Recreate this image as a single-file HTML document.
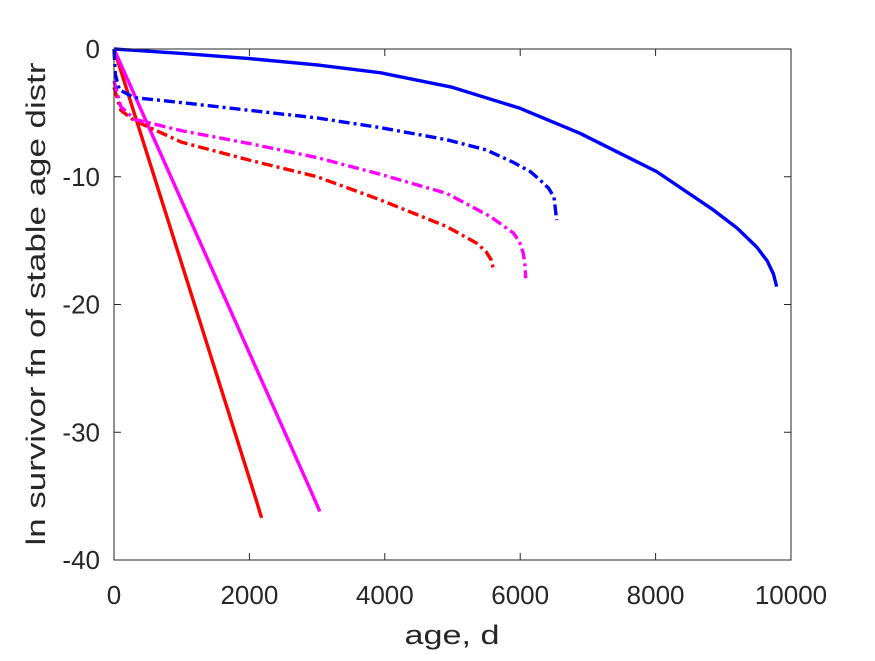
<!DOCTYPE html>
<html><head><meta charset="utf-8"><style>
body{margin:0;background:#fff}
svg text{font-family:"Liberation Sans",Arial,sans-serif;fill:#262626}
</style></head><body>
<svg width="875" height="656" xmlns="http://www.w3.org/2000/svg">
<g id="plot"></g>
<g id="axes"></g>
<text x="452" y="644" text-anchor="middle" font-size="27" textLength="95" lengthAdjust="spacingAndGlyphs">age, d</text>
<text transform="translate(45,304) rotate(-90)" text-anchor="middle" font-size="27" textLength="483" lengthAdjust="spacingAndGlyphs">ln survivor fn of stable age distr</text>
</svg>
<script>
const xTicks=[0,2000,4000,6000,8000,10000];
const yTicks=[0,-10,-20,-30,-40];
const blueSolidX=[0,1000,2000,3000,3929,5000,5997,6883,8016,8853,9200,9493,9650,9740,9788];
const blueSolidY=[0,-0.35,-0.75,-1.25,-1.85,-3.0,-4.64,-6.6,-9.6,-12.6,-14.0,-15.5,-16.6,-17.6,-18.6];
const blueDashX=[0,20,80,300,1000,2000,3000,3929,4914,5500,5908,6150,6292,6420,6499,6539];
const blueDashY=[0,-2,-3.2,-3.8,-4.2,-4.8,-5.4,-6.15,-7.1,-7.9,-8.9,-9.6,-10.25,-10.9,-11.6,-13.4];
const magDashX=[0,100,300,1000,2000,3000,3929,4914,5554,5898,5990,6046,6070,6081];
const magDashY=[-2.5,-4.5,-5.5,-6.4,-7.4,-8.5,-9.8,-11.3,-13.1,-14.4,-15.1,-16,-16.9,-17.95];
const redDashX=[0,100,300,1000,2000,3000,3929,4914,5357,5500,5570,5603];
const redDashY=[-3,-4.8,-5.6,-7.3,-8.7,-10,-11.8,-13.9,-15.2,-15.9,-16.5,-17.2];
const redSolidX=[0,2100,2180];
const redSolidY=[0,-35.3,-36.7];
const magSolidX=[0,2900,3040];
const magSolidY=[0,-34.5,-36.2];
const L=114,R=791,T=49,B=560;
const sx=v=>L+(v-0)/10000*(R-L);
const sy=v=>T+(0-v)/40*(B-T);
const NS="http://www.w3.org/2000/svg";
const plot=document.getElementById('plot'),axes=document.getElementById('axes');
function line(xs,ys,color,dash,name){
  const p=document.createElementNS(NS,'polyline');
  p.setAttribute('points',xs.map((x,i)=>sx(x)+','+sy(ys[i])).join(' '));
  p.setAttribute('fill','none');p.setAttribute('stroke',color);p.setAttribute('stroke-width','3.4');
  p.setAttribute('stroke-linejoin','round');
  if(dash)p.setAttribute('stroke-dasharray','11,4,3,4');
  
  
  plot.appendChild(p);
}
line(redSolidX,redSolidY,'#ff0000',false,'red-solid-line');
line(magSolidX,magSolidY,'#ff00ff',false,'magenta-solid-line');
line(redDashX,redDashY,'#ff0000',true,'red-dashdot-line');
line(magDashX,magDashY,'#ff00ff',true,'magenta-dashdot-line');
line(blueDashX,blueDashY,'#0000ff',true,'blue-dashdot-line');
line(blueSolidX,blueSolidY,'#0000ff',false,'blue-solid-line');
const box=document.createElementNS(NS,'rect');
box.setAttribute('x',L);box.setAttribute('y',T);box.setAttribute('width',R-L);box.setAttribute('height',B-T);
box.setAttribute('fill','none');box.setAttribute('stroke','#262626');box.setAttribute('stroke-width','1');


axes.appendChild(box);
function tick(x1,y1,x2,y2){const l=document.createElementNS(NS,'line');l.setAttribute('x1',x1);l.setAttribute('y1',y1);l.setAttribute('x2',x2);l.setAttribute('y2',y2);l.setAttribute('stroke','#262626');


axes.appendChild(l);}
xTicks.forEach(v=>{const x=sx(v);tick(x,B,x,B-7);tick(x,T,x,T+7);
 const t=document.createElementNS(NS,'text');t.setAttribute('x',x);t.setAttribute('y',B+44);t.setAttribute('text-anchor','middle');t.setAttribute('font-size','26');t.textContent=v;
 
 
 axes.appendChild(t);});
yTicks.forEach(v=>{const y=sy(v);tick(L,y,L+7,y);tick(R,y,R-7,y);
 const t=document.createElementNS(NS,'text');t.setAttribute('x',L-14);t.setAttribute('y',y+9);t.setAttribute('text-anchor','end');t.setAttribute('font-size','26');t.textContent=v;
 
 
 axes.appendChild(t);});
</script>
</body></html>
